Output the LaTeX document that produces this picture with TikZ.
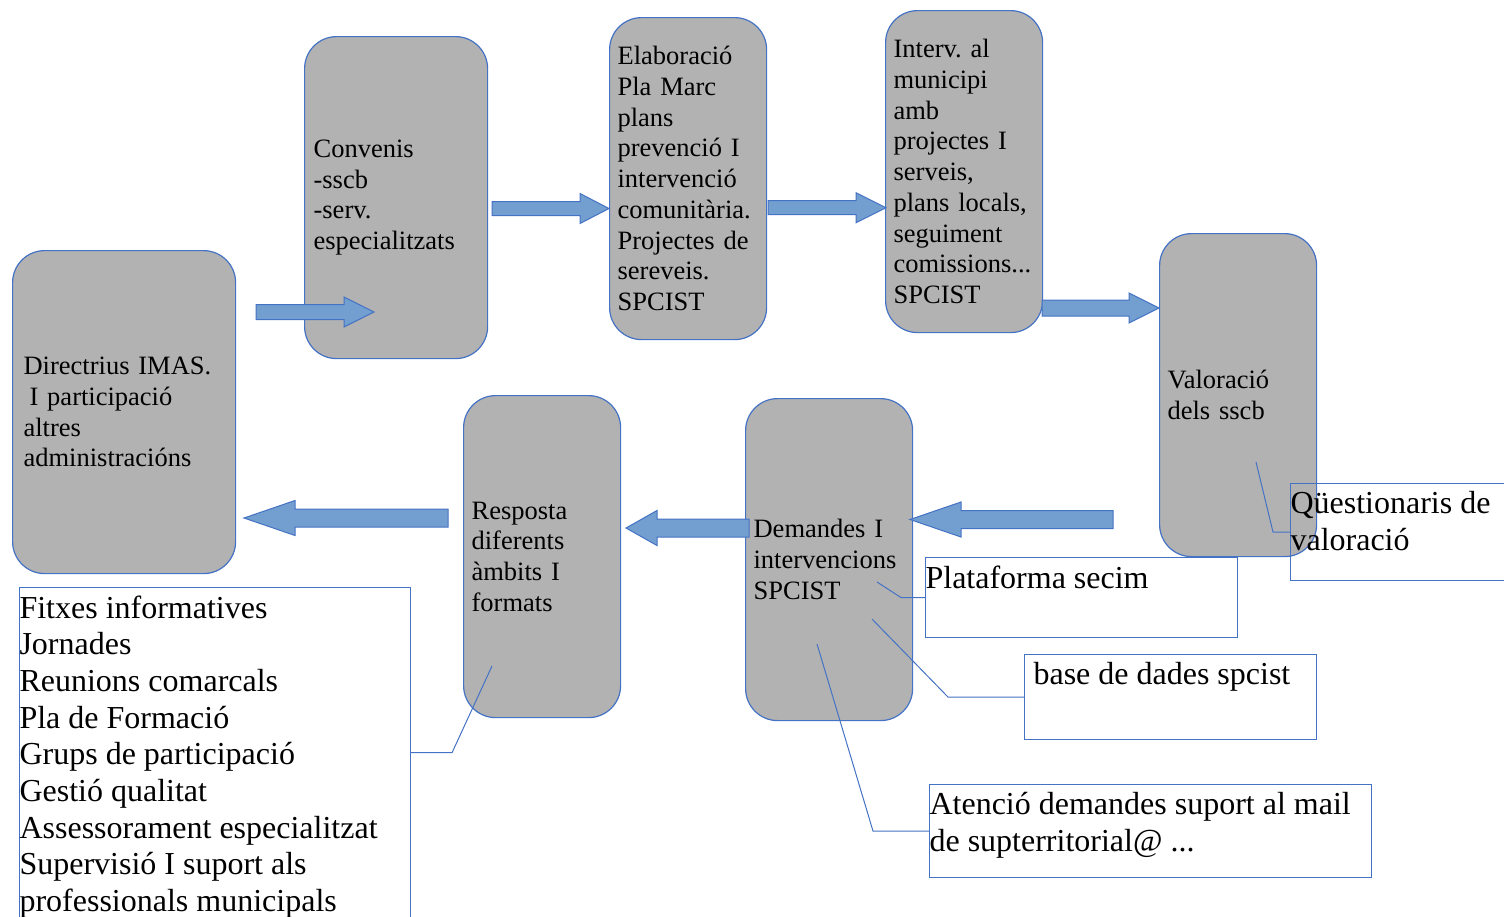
\documentclass[tikz,border=0pt]{standalone}
\usepackage{fontspec}
\setmainfont{Liberation Serif}
\usetikzlibrary{calc}
\definecolor{boxgray}{HTML}{B2B2B2}
\definecolor{boxline}{HTML}{4472C4}
\definecolor{arrowblue}{HTML}{729FCF}
\frenchspacing
\newcommand\stagefont{\fontsize{26.5pt}{30.7pt}\selectfont}
\newcommand\notefont{\fontsize{32pt}{36.7pt}\selectfont}
% width, height, text
\newcommand\notetext[3]{\parbox[t][#2][t]{#1}{\raggedright #3}}
% tail, tip, half shaft, half head, head length
\newcommand\blockarrow[5]{%
  \path[fatarrow] let \p1=(#1), \p2=(#2), \p3=($(#2)!#5!(#1)$) in
    (\x1,{\y1+#3}) -- (\x3,{\y1+#3}) -- (\x3,{\y1+#4}) -- (\x2,\y2)
    -- (\x3,{\y1-#4}) -- (\x3,{\y1-#3}) -- (\x1,{\y1-#3}) -- cycle;}

\begin{document}
\begin{tikzpicture}[x=1pt,y=-1pt,
  stage/.style={draw=boxline, fill=boxgray, line width=1.2pt, rounded corners=32pt, rectangle, anchor=north west, align=left, font=\stagefont, inner ysep=0pt, minimum height=322pt},
  note/.style={draw=boxline, line width=1.1pt, rectangle, anchor=north west, inner xsep=0pt, inner ysep=8pt, font=\notefont},
  leader/.style={draw=boxline, line width=1pt},
  fatarrow/.style={fill=arrowblue, draw=boxline, line width=1pt}]
\useasboundingbox (0,0) rectangle (1504,916);
\clip (0,0) rectangle (1504,916);
\node[stage, text width=201pt, inner xsep=11pt, minimum height=323pt] (dir) at (12,250) {Directrius IMAS.\\\hspace*{6pt}I participació\\altres\\administracións};
\node[stage, text width=165pt, inner xsep=9pt] (conv) at (304,36) {Convenis\\-sscb\\-serv.\\especialitzats};
\node[stage, text width=141pt, inner xsep=8pt] (elab) at (609,17) {Elaboració\\Pla Marc\\plans\\prevenció I\\intervenció\\comunitària.\\Projectes de\\sereveis.\\SPCIST};
\node[stage, text width=141pt, inner xsep=8pt] (interv) at (885,10) {Interv. al\\municipi\\amb\\projectes I\\serveis,\\plans locals,\\seguiment\\comissions...\\SPCIST};
\node[stage, text width=141pt, inner xsep=8pt, minimum height=323pt] (val) at (1159,233) {Valoració\\dels sscb};
\node[stage, text width=151pt, inner xsep=8pt] (dem) at (745,398) {Demandes I\\intervencions\\SPCIST};
\node[stage, text width=141pt, inner xsep=8pt] (resp) at (463,395) {Resposta\\diferents\\àmbits I\\formats};
\node[note] (fitx) at (19,587) {\notetext{391pt}{314pt}{Fitxes informatives\\Jornades\\Reunions comarcals\\Pla de Formació\\Grups de participació\\Gestió qualitat\\Assessorament especialitzat\\Supervisió I suport als\\professionals municipals}};
\node[note] (plat) at (925,557) {\notetext{312pt}{64pt}{Plataforma secim}};
\node[note] (qst) at (1290,483) {\notetext{260pt}{81pt}{Qüestionaris de\\valoració}};
\node[note, inner xsep=9pt] (base) at (1024,654) {\notetext{274pt}{69pt}{base de dades spcist}};
\node[note] (aten) at (929,784) {\notetext{442pt}{77pt}{Atenció demandes suport al mail\\de supterritorial@ ...}};
\coordinate (fitxend) at (492,666);
\coordinate (platend) at (877,582);
\coordinate (qstend) at (1256,462);
\coordinate (baseend) at (872,619);
\coordinate (atenend) at (817,644);
\coordinate (a1t) at (256,312);
\coordinate (a1h) at (374,312);
\coordinate (a2t) at (492,208.5);
\coordinate (a2h) at (609,208.5);
\coordinate (a3t) at (768,207.7);
\coordinate (a3h) at (886,207.7);
\coordinate (a4t) at (1042,308);
\coordinate (a4h) at (1159,308);
\coordinate (a5t) at (1113,519.5);
\coordinate (a5h) at (910,519.5);
\coordinate (a6t) at (749,528);
\coordinate (a6h) at (626,528);
\coordinate (a7t) at (448,518);
\coordinate (a7h) at (244,518);
\draw[leader] (fitx.east) -- ++(41,0) -- (fitxend);
\draw[leader] (plat.west) -- ++(-24,0) -- (platend);
\draw[leader] (qst.west) -- ++(-17,0) -- (qstend);
\draw[leader] (base.west) -- ++(-76,0) -- (baseend);
\draw[leader] (aten.west) -- ++(-56,0) -- (atenend);
\blockarrow{a1t}{a1h}{7.5pt}{15pt}{30pt}
\blockarrow{a2t}{a2h}{7pt}{15pt}{29pt}
\blockarrow{a3t}{a3h}{7pt}{15pt}{30pt}
\blockarrow{a4t}{a4h}{8pt}{15pt}{30pt}
\blockarrow{a5t}{a5h}{9pt}{17.5pt}{51pt}
\blockarrow{a6t}{a6h}{9pt}{17.5pt}{31pt}
\blockarrow{a7t}{a7h}{9pt}{17.5pt}{51pt}
\end{tikzpicture}
\end{document}
